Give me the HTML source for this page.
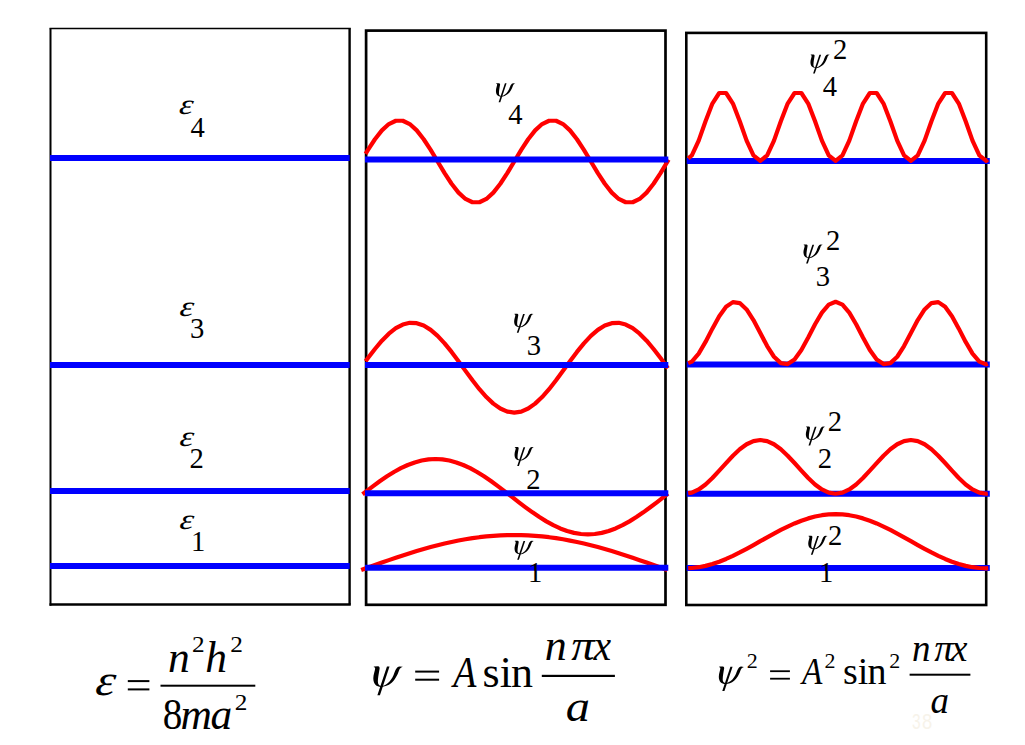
<!DOCTYPE html>
<html lang="en"><head><meta charset="utf-8"><title>Particle in a box</title>
<style>
html,body{margin:0;padding:0;background:#fff;}
body{width:1025px;height:745px;overflow:hidden;font-family:"Liberation Serif",serif;}
svg{display:block;font-family:"Liberation Serif",serif;}
</style></head><body>
<svg width="1025" height="745" viewBox="0 0 1025 745">
<rect width="100%" height="100%" fill="#fff"/>
<rect x="366.10" y="30.60" width="299.40" height="574.20" fill="none" stroke="#000000" stroke-width="2.70"/>
<rect x="686.30" y="32.90" width="299.90" height="572.10" fill="none" stroke="#000000" stroke-width="2.60"/>
<line x1="49.50" y1="28.60" x2="350.80" y2="28.60" stroke="#000" stroke-width="1.50" stroke-linecap="butt"/>
<line x1="50.50" y1="28.60" x2="50.50" y2="605.70" stroke="#000" stroke-width="2.00" stroke-linecap="butt"/>
<line x1="49.50" y1="604.50" x2="350.80" y2="604.50" stroke="#000" stroke-width="2.50" stroke-linecap="butt"/>
<line x1="349.60" y1="28.60" x2="349.60" y2="604.50" stroke="#000" stroke-width="2.40" stroke-linecap="butt"/>
<line x1="50.00" y1="158.00" x2="349.70" y2="158.00" stroke="#0000ff" stroke-width="6.00"/>
<line x1="50.00" y1="365.00" x2="349.70" y2="365.00" stroke="#0000ff" stroke-width="6.00"/>
<line x1="50.00" y1="490.90" x2="349.70" y2="490.90" stroke="#0000ff" stroke-width="6.00"/>
<line x1="50.00" y1="565.90" x2="349.70" y2="565.90" stroke="#0000ff" stroke-width="6.00"/>
<polyline fill="none" stroke="#ff0000" stroke-width="4.20" stroke-linejoin="round" points="365.60,153.84 367.97,149.91 374.93,139.25 381.90,130.40 388.86,124.07 395.83,120.77 402.80,120.77 409.76,124.07 416.73,130.40 423.69,139.25 430.66,149.91 437.62,161.50 444.59,173.09 451.56,183.75 458.52,192.60 465.49,198.93 472.45,202.23 479.42,202.23 486.39,198.93 493.35,192.60 500.32,183.75 507.28,173.09 514.25,161.50 521.22,149.91 528.18,139.25 535.15,130.40 542.11,124.07 549.08,120.77 556.05,120.77 563.01,124.07 569.98,130.40 576.94,139.25 583.91,149.91 590.88,161.50 597.84,173.09 604.81,183.75 611.77,192.60 618.74,198.93 625.70,202.23 632.67,202.23 639.64,198.93 646.60,192.60 653.57,183.75 660.53,173.09 667.50,161.50 668.60,159.67"/>
<polyline fill="none" stroke="#ff0000" stroke-width="4.20" stroke-linejoin="round" points="365.60,361.34 367.97,358.10 374.93,348.98 381.90,340.71 388.86,333.68 395.83,328.20 402.80,324.52 409.76,322.81 416.73,323.16 423.69,325.53 430.66,329.84 437.62,335.87 444.59,343.35 451.56,351.94 458.52,361.25 465.49,370.86 472.45,380.31 479.42,389.19 486.39,397.09 493.35,403.63 500.32,408.54 507.28,411.57 514.25,412.60 521.22,411.57 528.18,408.54 535.15,403.63 542.11,397.09 549.08,389.19 556.05,380.31 563.01,370.86 569.98,361.25 576.94,351.94 583.91,343.35 590.88,335.87 597.84,329.84 604.81,325.53 611.77,323.16 618.74,322.81 625.70,324.52 632.67,328.20 639.64,333.68 646.60,340.71 653.57,348.98 660.53,358.10 667.50,367.65 668.00,368.34"/>
<polyline fill="none" stroke="#ff0000" stroke-width="4.20" stroke-linejoin="round" points="362.50,494.22 366.23,491.33 373.15,486.08 380.08,481.04 387.01,476.32 393.94,472.01 400.86,468.21 407.79,464.98 414.72,462.41 421.65,460.53 428.57,459.38 435.50,459.00 442.43,459.38 449.35,460.53 456.28,462.41 463.21,464.98 470.14,468.21 477.06,472.01 483.99,476.32 490.92,481.04 497.85,486.08 504.77,491.33 511.70,496.70 518.63,502.07 525.55,507.32 532.48,512.36 539.41,517.08 546.34,521.39 553.26,525.19 560.19,528.42 567.12,530.99 574.05,532.87 580.97,534.02 587.90,534.40 594.83,534.02 601.75,532.87 608.68,530.99 615.61,528.42 622.54,525.19 629.46,521.39 636.39,517.08 643.32,512.36 650.25,507.32 657.17,502.07 664.10,496.70 668.00,493.68"/>
<polyline fill="none" stroke="#ff0000" stroke-width="4.20" stroke-linejoin="round" points="361.20,569.93 367.97,567.50 374.93,565.02 381.90,562.56 388.86,560.14 395.83,557.77 402.80,555.46 409.76,553.23 416.73,551.08 423.69,549.03 430.66,547.08 437.62,545.25 444.59,543.55 451.56,541.98 458.52,540.56 465.49,539.28 472.45,538.16 479.42,537.21 486.39,536.42 493.35,535.80 500.32,535.36 507.28,535.09 514.25,535.00 521.22,535.09 528.18,535.36 535.15,535.80 542.11,536.42 549.08,537.21 556.05,538.16 563.01,539.28 569.98,540.56 576.94,541.98 583.91,543.55 590.88,545.25 597.84,547.08 604.81,549.03 611.77,551.08 618.74,553.23 625.70,555.46 632.67,557.77 639.64,560.14 646.60,562.56 653.57,565.02 660.53,567.50 667.50,570.00"/>
<line x1="365.00" y1="159.50" x2="668.30" y2="159.50" stroke="#0000ff" stroke-width="6.00"/>
<line x1="365.00" y1="365.10" x2="668.30" y2="365.10" stroke="#0000ff" stroke-width="6.00"/>
<line x1="365.00" y1="493.30" x2="668.30" y2="493.30" stroke="#0000ff" stroke-width="6.00"/>
<line x1="365.00" y1="567.85" x2="668.30" y2="567.85" stroke="#0000ff" stroke-width="6.00"/>
<line x1="686.70" y1="160.90" x2="989.80" y2="160.90" stroke="#0000ff" stroke-width="6.00"/>
<line x1="686.70" y1="364.40" x2="989.80" y2="364.40" stroke="#0000ff" stroke-width="6.00"/>
<line x1="686.70" y1="493.70" x2="989.80" y2="493.70" stroke="#0000ff" stroke-width="6.00"/>
<line x1="686.70" y1="568.00" x2="989.80" y2="568.00" stroke="#0000ff" stroke-width="6.00"/>
<polyline fill="none" stroke="#ff0000" stroke-width="4.20" stroke-linejoin="round" points="688.20,158.33 691.85,155.40 698.69,140.64 705.54,121.32 712.38,103.56 719.23,93.00 726.07,93.00 732.92,103.56 739.76,121.32 746.61,140.64 753.45,155.40 760.30,160.90 767.15,155.40 773.99,140.64 780.84,121.32 787.68,103.56 794.53,93.00 801.37,93.00 808.22,103.56 815.06,121.32 821.91,140.64 828.75,155.40 835.60,160.90 842.45,155.40 849.29,140.64 856.14,121.32 862.98,103.56 869.83,93.00 876.67,93.00 883.52,103.56 890.36,121.32 897.21,140.64 904.05,155.40 910.90,160.90 917.75,155.40 924.59,140.64 931.44,121.32 938.28,103.56 945.13,93.00 951.97,93.00 958.82,103.56 965.66,121.32 972.51,140.64 979.35,155.40 986.20,160.90 987.80,159.61"/>
<polyline fill="none" stroke="#ff0000" stroke-width="4.20" stroke-linejoin="round" points="688.20,363.08 691.85,361.57 698.69,353.60 705.54,341.92 712.38,328.65 719.23,316.18 726.07,306.77 732.92,302.12 739.76,303.07 746.61,309.45 753.45,320.10 760.30,333.10 767.15,346.10 773.99,356.75 780.84,363.13 787.68,364.08 794.53,359.43 801.37,350.02 808.22,337.55 815.06,324.28 821.91,312.60 828.75,304.63 835.60,301.80 842.45,304.63 849.29,312.60 856.14,324.28 862.98,337.55 869.83,350.02 876.67,359.43 883.52,364.08 890.36,363.13 897.21,356.75 904.05,346.10 910.90,333.10 917.75,320.10 924.59,309.45 931.44,303.07 938.28,302.12 945.13,306.77 951.97,316.18 958.82,328.65 965.66,341.92 972.51,353.60 979.35,361.57 986.20,364.40 987.80,363.74"/>
<polyline fill="none" stroke="#ff0000" stroke-width="4.20" stroke-linejoin="round" points="688.20,493.19 691.85,492.61 698.69,489.44 705.54,484.43 712.38,478.00 719.23,470.67 726.07,463.03 732.92,455.70 739.76,449.27 746.61,444.26 753.45,441.09 760.30,440.00 767.15,441.09 773.99,444.26 780.84,449.27 787.68,455.70 794.53,463.03 801.37,470.67 808.22,478.00 815.06,484.43 821.91,489.44 828.75,492.61 835.60,493.70 842.45,492.61 849.29,489.44 856.14,484.43 862.98,478.00 869.83,470.67 876.67,463.03 883.52,455.70 890.36,449.27 897.21,444.26 904.05,441.09 910.90,440.00 917.75,441.09 924.59,444.26 931.44,449.27 938.28,455.70 945.13,463.03 951.97,470.67 958.82,478.00 965.66,484.43 972.51,489.44 979.35,492.61 986.20,493.70 987.80,493.45"/>
<polyline fill="none" stroke="#ff0000" stroke-width="4.20" stroke-linejoin="round" points="688.20,568.17 691.85,568.02 698.69,567.20 705.54,565.85 712.38,564.00 719.23,561.68 726.07,558.95 732.92,555.85 739.76,552.46 746.61,548.83 753.45,545.06 760.30,541.20 767.15,537.34 773.99,533.57 780.84,529.94 787.68,526.55 794.53,523.45 801.37,520.72 808.22,518.40 815.06,516.55 821.91,515.20 828.75,514.38 835.60,514.10 842.45,514.38 849.29,515.20 856.14,516.55 862.98,518.40 869.83,520.72 876.67,523.45 883.52,526.55 890.36,529.94 897.21,533.57 904.05,537.34 910.90,541.20 917.75,545.06 924.59,548.83 931.44,552.46 938.28,555.85 945.13,558.95 951.97,561.68 958.82,564.00 965.66,565.85 972.51,567.20 979.35,568.02 986.20,568.30 988.20,568.22"/>
<text transform="translate(178.54,114.17) skewX(-7.0) scale(1.240,1.000)" font-size="28.50" font-style="italic" fill="#000">ε</text>
<text transform="translate(190.44,137.00) scale(1.000,1.000)" font-size="28.60" fill="#000">4</text>
<text transform="translate(179.04,316.17) skewX(-7.0) scale(1.240,1.000)" font-size="28.50" font-style="italic" fill="#000">ε</text>
<text transform="translate(189.88,338.47) scale(1.000,1.000)" font-size="28.60" fill="#000">3</text>
<text transform="translate(178.94,445.82) skewX(-7.0) scale(1.240,1.000)" font-size="28.50" font-style="italic" fill="#000">ε</text>
<text transform="translate(189.54,468.00) scale(1.000,1.000)" font-size="28.60" fill="#000">2</text>
<text transform="translate(178.94,528.72) skewX(-7.0) scale(1.240,1.000)" font-size="28.50" font-style="italic" fill="#000">ε</text>
<text transform="translate(190.99,550.80) scale(1.000,1.000)" font-size="28.60" fill="#000">1</text>
<g transform="translate(496.00,83.20) scale(13.400)" fill="#000"><path d="M0.01,0.035 L0.03,0.0 L0.23,-0.005 C0.29,0.0 0.31,0.05 0.305,0.10 C0.285,0.25 0.22,0.55 0.22,0.75 C0.22,0.88 0.28,0.955 0.40,0.955 C0.60,0.955 0.845,0.75 0.99,0.42 C1.065,0.22 1.13,0.01 1.28,0.0 L1.445,0.02 C1.36,0.04 1.30,0.10 1.27,0.17 C1.18,0.45 1.03,0.70 0.88,0.815 C0.73,0.935 0.55,1.005 0.38,1.005 C0.15,1.005 -0.005,0.85 -0.005,0.58 C-0.005,0.40 0.085,0.20 0.085,0.10 C0.085,0.06 0.06,0.04 0.01,0.035 Z"/><path d="M0.665,0.01 L0.79,0.01 L0.32,1.415 L0.195,1.415 Z"/></g>
<text transform="translate(508.14,124.12) scale(1.000,1.000)" font-size="28.60" fill="#000">4</text>
<g transform="translate(514.20,313.80) scale(13.400)" fill="#000"><path d="M0.01,0.035 L0.03,0.0 L0.23,-0.005 C0.29,0.0 0.31,0.05 0.305,0.10 C0.285,0.25 0.22,0.55 0.22,0.75 C0.22,0.88 0.28,0.955 0.40,0.955 C0.60,0.955 0.845,0.75 0.99,0.42 C1.065,0.22 1.13,0.01 1.28,0.0 L1.445,0.02 C1.36,0.04 1.30,0.10 1.27,0.17 C1.18,0.45 1.03,0.70 0.88,0.815 C0.73,0.935 0.55,1.005 0.38,1.005 C0.15,1.005 -0.005,0.85 -0.005,0.58 C-0.005,0.40 0.085,0.20 0.085,0.10 C0.085,0.06 0.06,0.04 0.01,0.035 Z"/><path d="M0.665,0.01 L0.79,0.01 L0.32,1.415 L0.195,1.415 Z"/></g>
<text transform="translate(526.83,355.14) scale(1.000,1.000)" font-size="28.60" fill="#000">3</text>
<g transform="translate(514.60,447.00) scale(13.400)" fill="#000"><path d="M0.01,0.035 L0.03,0.0 L0.23,-0.005 C0.29,0.0 0.31,0.05 0.305,0.10 C0.285,0.25 0.22,0.55 0.22,0.75 C0.22,0.88 0.28,0.955 0.40,0.955 C0.60,0.955 0.845,0.75 0.99,0.42 C1.065,0.22 1.13,0.01 1.28,0.0 L1.445,0.02 C1.36,0.04 1.30,0.10 1.27,0.17 C1.18,0.45 1.03,0.70 0.88,0.815 C0.73,0.935 0.55,1.005 0.38,1.005 C0.15,1.005 -0.005,0.85 -0.005,0.58 C-0.005,0.40 0.085,0.20 0.085,0.10 C0.085,0.06 0.06,0.04 0.01,0.035 Z"/><path d="M0.665,0.01 L0.79,0.01 L0.32,1.415 L0.195,1.415 Z"/></g>
<text transform="translate(526.14,489.14) scale(1.000,1.000)" font-size="28.60" fill="#000">2</text>
<g transform="translate(514.60,540.80) scale(13.400)" fill="#000"><path d="M0.01,0.035 L0.03,0.0 L0.23,-0.005 C0.29,0.0 0.31,0.05 0.305,0.10 C0.285,0.25 0.22,0.55 0.22,0.75 C0.22,0.88 0.28,0.955 0.40,0.955 C0.60,0.955 0.845,0.75 0.99,0.42 C1.065,0.22 1.13,0.01 1.28,0.0 L1.445,0.02 C1.36,0.04 1.30,0.10 1.27,0.17 C1.18,0.45 1.03,0.70 0.88,0.815 C0.73,0.935 0.55,1.005 0.38,1.005 C0.15,1.005 -0.005,0.85 -0.005,0.58 C-0.005,0.40 0.085,0.20 0.085,0.10 C0.085,0.06 0.06,0.04 0.01,0.035 Z"/><path d="M0.665,0.01 L0.79,0.01 L0.32,1.415 L0.195,1.415 Z"/></g>
<text transform="translate(528.09,582.08) scale(1.000,1.000)" font-size="28.60" fill="#000">1</text>
<g transform="translate(810.50,54.60) scale(13.400)" fill="#000"><path d="M0.01,0.035 L0.03,0.0 L0.23,-0.005 C0.29,0.0 0.31,0.05 0.305,0.10 C0.285,0.25 0.22,0.55 0.22,0.75 C0.22,0.88 0.28,0.955 0.40,0.955 C0.60,0.955 0.845,0.75 0.99,0.42 C1.065,0.22 1.13,0.01 1.28,0.0 L1.445,0.02 C1.36,0.04 1.30,0.10 1.27,0.17 C1.18,0.45 1.03,0.70 0.88,0.815 C0.73,0.935 0.55,1.005 0.38,1.005 C0.15,1.005 -0.005,0.85 -0.005,0.58 C-0.005,0.40 0.085,0.20 0.085,0.10 C0.085,0.06 0.06,0.04 0.01,0.035 Z"/><path d="M0.665,0.01 L0.79,0.01 L0.32,1.415 L0.195,1.415 Z"/></g>
<text transform="translate(832.94,59.24) scale(1.000,1.000)" font-size="28.60" fill="#000">2</text>
<text transform="translate(822.74,95.82) scale(1.000,1.000)" font-size="28.60" fill="#000">4</text>
<g transform="translate(803.50,244.60) scale(13.400)" fill="#000"><path d="M0.01,0.035 L0.03,0.0 L0.23,-0.005 C0.29,0.0 0.31,0.05 0.305,0.10 C0.285,0.25 0.22,0.55 0.22,0.75 C0.22,0.88 0.28,0.955 0.40,0.955 C0.60,0.955 0.845,0.75 0.99,0.42 C1.065,0.22 1.13,0.01 1.28,0.0 L1.445,0.02 C1.36,0.04 1.30,0.10 1.27,0.17 C1.18,0.45 1.03,0.70 0.88,0.815 C0.73,0.935 0.55,1.005 0.38,1.005 C0.15,1.005 -0.005,0.85 -0.005,0.58 C-0.005,0.40 0.085,0.20 0.085,0.10 C0.085,0.06 0.06,0.04 0.01,0.035 Z"/><path d="M0.665,0.01 L0.79,0.01 L0.32,1.415 L0.195,1.415 Z"/></g>
<text transform="translate(826.04,249.54) scale(1.000,1.000)" font-size="28.60" fill="#000">2</text>
<text transform="translate(815.63,286.34) scale(1.000,1.000)" font-size="28.60" fill="#000">3</text>
<g transform="translate(805.90,426.60) scale(13.400)" fill="#000"><path d="M0.01,0.035 L0.03,0.0 L0.23,-0.005 C0.29,0.0 0.31,0.05 0.305,0.10 C0.285,0.25 0.22,0.55 0.22,0.75 C0.22,0.88 0.28,0.955 0.40,0.955 C0.60,0.955 0.845,0.75 0.99,0.42 C1.065,0.22 1.13,0.01 1.28,0.0 L1.445,0.02 C1.36,0.04 1.30,0.10 1.27,0.17 C1.18,0.45 1.03,0.70 0.88,0.815 C0.73,0.935 0.55,1.005 0.38,1.005 C0.15,1.005 -0.005,0.85 -0.005,0.58 C-0.005,0.40 0.085,0.20 0.085,0.10 C0.085,0.06 0.06,0.04 0.01,0.035 Z"/><path d="M0.665,0.01 L0.79,0.01 L0.32,1.415 L0.195,1.415 Z"/></g>
<text transform="translate(827.74,431.24) scale(1.000,1.000)" font-size="28.60" fill="#000">2</text>
<text transform="translate(817.84,468.34) scale(1.000,1.000)" font-size="28.60" fill="#000">2</text>
<g transform="translate(808.30,535.80) scale(13.400)" fill="#000"><path d="M0.01,0.035 L0.03,0.0 L0.23,-0.005 C0.29,0.0 0.31,0.05 0.305,0.10 C0.285,0.25 0.22,0.55 0.22,0.75 C0.22,0.88 0.28,0.955 0.40,0.955 C0.60,0.955 0.845,0.75 0.99,0.42 C1.065,0.22 1.13,0.01 1.28,0.0 L1.445,0.02 C1.36,0.04 1.30,0.10 1.27,0.17 C1.18,0.45 1.03,0.70 0.88,0.815 C0.73,0.935 0.55,1.005 0.38,1.005 C0.15,1.005 -0.005,0.85 -0.005,0.58 C-0.005,0.40 0.085,0.20 0.085,0.10 C0.085,0.06 0.06,0.04 0.01,0.035 Z"/><path d="M0.665,0.01 L0.79,0.01 L0.32,1.415 L0.195,1.415 Z"/></g>
<text transform="translate(828.04,545.44) scale(1.000,1.000)" font-size="28.60" fill="#000">2</text>
<text transform="translate(818.99,582.18) scale(1.000,1.000)" font-size="28.60" fill="#000">1</text>
<text transform="translate(94.53,695.38) skewX(-7.0) scale(1.150,1.000)" font-size="43.50" font-style="italic" fill="#000">ε</text>
<rect x="127.80" y="680.10" width="21.60" height="2.00" fill="#000"/>
<rect x="127.80" y="688.40" width="21.60" height="2.00" fill="#000"/>
<rect x="160.50" y="684.70" width="94.80" height="2.00" fill="#000"/>
<text transform="translate(168.05,671.50) scale(1.000,1.000)" font-size="43.50" font-style="italic" fill="#000">n</text>
<text transform="translate(191.99,651.90) scale(1.100,1.000)" font-size="23.00" fill="#000">2</text>
<text transform="translate(205.33,671.50) scale(1.000,1.000)" font-size="43.50" font-style="italic" fill="#000">h</text>
<text transform="translate(230.19,651.90) scale(1.100,1.000)" font-size="23.00" fill="#000">2</text>
<text transform="translate(162.81,728.60) scale(0.900,1.000)" font-size="43.50" fill="#000">8</text>
<text transform="translate(180.43,728.60) scale(1.000,1.000)" font-size="43.50" font-style="italic" fill="#000">m</text>
<text transform="translate(210.60,728.60) scale(1.000,1.000)" font-size="43.50" font-style="italic" fill="#000">a</text>
<text transform="translate(234.79,709.90) scale(1.100,1.000)" font-size="23.00" fill="#000">2</text>
<g transform="translate(373.40,666.40) scale(20.400)" fill="#000"><path d="M0.01,0.035 L0.03,0.0 L0.23,-0.005 C0.29,0.0 0.31,0.05 0.305,0.10 C0.285,0.25 0.22,0.55 0.22,0.75 C0.22,0.88 0.28,0.955 0.40,0.955 C0.60,0.955 0.845,0.75 0.99,0.42 C1.065,0.22 1.13,0.01 1.28,0.0 L1.445,0.02 C1.36,0.04 1.30,0.10 1.27,0.17 C1.18,0.45 1.03,0.70 0.88,0.815 C0.73,0.935 0.55,1.005 0.38,1.005 C0.15,1.005 -0.005,0.85 -0.005,0.58 C-0.005,0.40 0.085,0.20 0.085,0.10 C0.085,0.06 0.06,0.04 0.01,0.035 Z"/><path d="M0.665,0.01 L0.79,0.01 L0.32,1.415 L0.195,1.415 Z"/></g>
<rect x="415.20" y="670.60" width="23.90" height="2.00" fill="#000"/>
<rect x="415.20" y="678.70" width="23.90" height="2.00" fill="#000"/>
<text transform="translate(453.37,686.50) scale(0.860,1.000)" font-size="44.00" font-style="italic" fill="#000">A</text>
<text transform="translate(482.40,686.50) scale(1.000,1.000)" font-size="44.00" fill="#000">s</text>
<text transform="translate(499.78,686.50) scale(1.000,1.000)" font-size="44.00" fill="#000">i</text>
<text transform="translate(511.09,686.50) scale(1.000,1.000)" font-size="44.00" fill="#000">n</text>
<rect x="541.80" y="674.80" width="73.10" height="2.20" fill="#000"/>
<text transform="translate(544.63,660.30) scale(1.000,1.000)" font-size="44.00" font-style="italic" fill="#000">n</text>
<text transform="translate(571.35,660.30) scale(1.060,1.000)" font-size="44.00" font-style="italic" fill="#000">π</text>
<text transform="translate(593.38,660.30) scale(0.900,1.000)" font-size="44.00" font-style="italic" fill="#000">x</text>
<text transform="translate(565.76,721.20) scale(1.100,1.000)" font-size="44.00" font-style="italic" fill="#000">a</text>
<g transform="translate(718.90,666.60) scale(17.300)" fill="#000"><path d="M0.01,0.035 L0.03,0.0 L0.23,-0.005 C0.29,0.0 0.31,0.05 0.305,0.10 C0.285,0.25 0.22,0.55 0.22,0.75 C0.22,0.88 0.28,0.955 0.40,0.955 C0.60,0.955 0.845,0.75 0.99,0.42 C1.065,0.22 1.13,0.01 1.28,0.0 L1.445,0.02 C1.36,0.04 1.30,0.10 1.27,0.17 C1.18,0.45 1.03,0.70 0.88,0.815 C0.73,0.935 0.55,1.005 0.38,1.005 C0.15,1.005 -0.005,0.85 -0.005,0.58 C-0.005,0.40 0.085,0.20 0.085,0.10 C0.085,0.06 0.06,0.04 0.01,0.035 Z"/><path d="M0.665,0.01 L0.79,0.01 L0.32,1.415 L0.195,1.415 Z"/></g>
<text transform="translate(746.63,668.00) scale(1.000,1.000)" font-size="22.00" fill="#000">2</text>
<rect x="770.10" y="670.30" width="19.80" height="1.80" fill="#000"/>
<rect x="770.10" y="677.80" width="19.80" height="1.80" fill="#000"/>
<text transform="translate(802.02,683.70) scale(0.900,1.000)" font-size="37.00" font-style="italic" fill="#000">A</text>
<text transform="translate(824.43,668.00) scale(1.000,1.000)" font-size="22.00" fill="#000">2</text>
<text transform="translate(842.94,683.60) scale(1.000,1.000)" font-size="38.00" fill="#000">s</text>
<text transform="translate(857.80,683.60) scale(1.000,1.000)" font-size="38.00" fill="#000">i</text>
<text transform="translate(867.43,683.60) scale(1.000,1.000)" font-size="38.00" fill="#000">n</text>
<text transform="translate(889.33,667.90) scale(1.000,1.000)" font-size="22.00" fill="#000">2</text>
<rect x="909.60" y="673.70" width="60.80" height="2.00" fill="#000"/>
<text transform="translate(911.98,661.00) scale(1.000,1.000)" font-size="37.00" font-style="italic" fill="#000">n</text>
<text transform="translate(934.29,661.00) scale(1.040,1.000)" font-size="37.00" font-style="italic" fill="#000">π</text>
<text transform="translate(951.05,661.00) scale(1.000,1.000)" font-size="37.00" font-style="italic" fill="#000">x</text>
<text transform="translate(930.50,713.00) scale(1.000,1.000)" font-size="37.00" font-style="italic" fill="#000">a</text>
<g font-family="Liberation Sans, sans-serif" font-size="20.5" fill="#f7f3ea"><text transform="translate(912.1,728.7) scale(0.76,1.05)">3</text><text transform="translate(922.0,728.7) scale(0.9,1.05)">8</text></g>
</svg>
</body></html>
